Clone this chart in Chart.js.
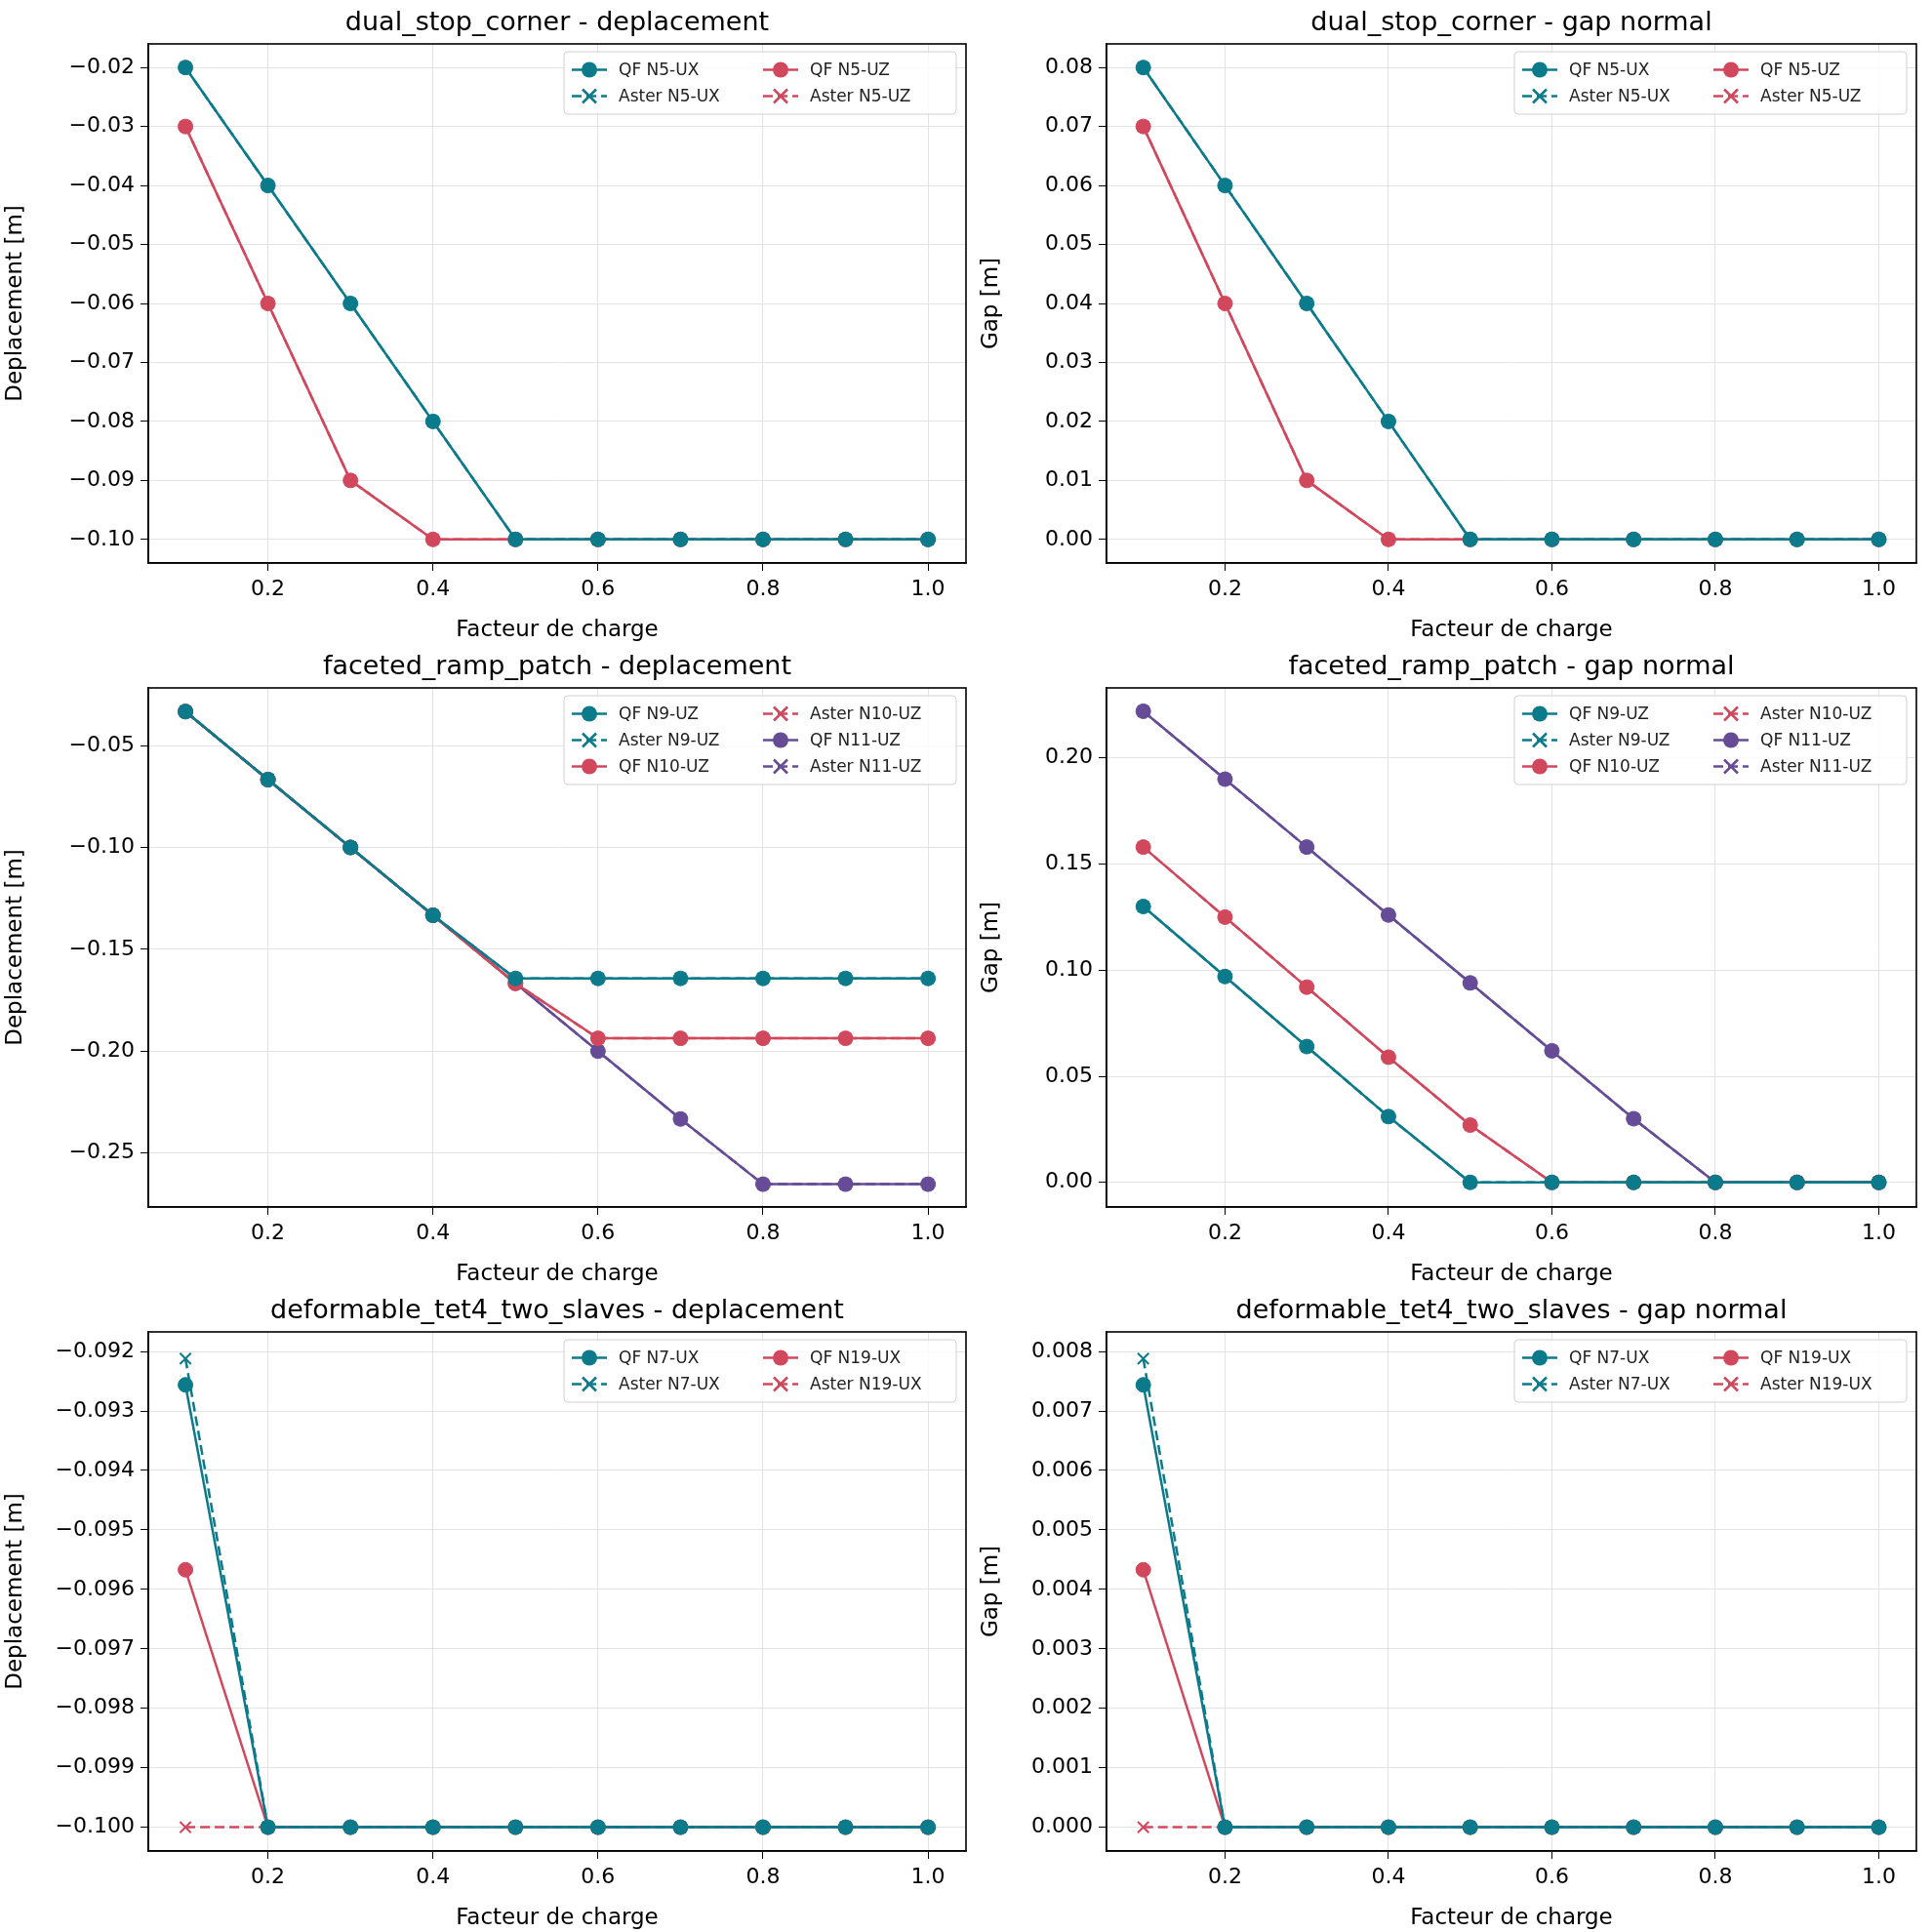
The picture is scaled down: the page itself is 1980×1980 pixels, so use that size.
<!DOCTYPE html>
<html><head><meta charset="utf-8">
<script src="https://cdn.jsdelivr.net/npm/chart.js@4"></script>
<style>body{margin:0;background:#fff;width:1980px;height:1980px;position:relative}canvas{position:absolute}</style>
</head><body>
<script>
const factors = [0.1,0.2,0.3,0.4,0.5,0.6,0.7,0.8,0.9,1.0];
const xTicks = [0.2,0.4,0.6,0.8,1.0];

const dualDepUX = [-0.02,-0.04,-0.06,-0.08,-0.1,-0.1,-0.1,-0.1,-0.1,-0.1];
const dualDepUZ = [-0.03,-0.06,-0.09,-0.1,-0.1,-0.1,-0.1,-0.1,-0.1,-0.1];
const dualGapUX = [0.08,0.06,0.04,0.02,0,0,0,0,0,0];
const dualGapUZ = [0.07,0.04,0.01,0,0,0,0,0,0,0];

const rampDepN9 = [-0.0333,-0.0667,-0.1,-0.1333,-0.1643,-0.1643,-0.1643,-0.1643,-0.1643,-0.1643];
const rampDepN10 = [-0.0333,-0.0667,-0.1,-0.1333,-0.1667,-0.1937,-0.1937,-0.1937,-0.1937,-0.1937];
const rampDepN11 = [-0.0333,-0.0667,-0.1,-0.1333,-0.1667,-0.2,-0.2333,-0.2653,-0.2653,-0.2653];
const rampGapN9 = [0.130,0.097,0.064,0.031,0,0,0,0,0,0];
const rampGapN10 = [0.158,0.125,0.092,0.059,0.027,0,0,0,0,0];
const rampGapN11 = [0.222,0.190,0.158,0.126,0.094,0.062,0.030,0,0,0];

const tetDepQFN7 = [-0.09256,-0.1,-0.1,-0.1,-0.1,-0.1,-0.1,-0.1,-0.1,-0.1];
const tetDepAsN7 = [-0.09212,-0.1,-0.1,-0.1,-0.1,-0.1,-0.1,-0.1,-0.1,-0.1];
const tetDepQFN19 = [-0.09567,-0.1,-0.1,-0.1,-0.1,-0.1,-0.1,-0.1,-0.1,-0.1];
const tetDepAsN19 = [-0.1,-0.1,-0.1,-0.1,-0.1,-0.1,-0.1,-0.1,-0.1,-0.1];
const tetGapQFN7 = [0.00744,0,0,0,0,0,0,0,0,0];
const tetGapAsN7 = [0.00788,0,0,0,0,0,0,0,0,0];
const tetGapQFN19 = [0.00433,0,0,0,0,0,0,0,0,0];
const tetGapAsN19 = [0,0,0,0,0,0,0,0,0,0];

const depTicks1 = [-0.02,-0.03,-0.04,-0.05,-0.06,-0.07,-0.08,-0.09,-0.10];
const gapTicks1 = [0,0.01,0.02,0.03,0.04,0.05,0.06,0.07,0.08];
const depTicks2 = [-0.05,-0.10,-0.15,-0.20,-0.25];
const gapTicks2 = [0,0.05,0.10,0.15,0.20];
const depTicks3 = [-0.092,-0.093,-0.094,-0.095,-0.096,-0.097,-0.098,-0.099,-0.100];
const gapTicks3 = [0,0.001,0.002,0.003,0.004,0.005,0.006,0.007,0.008];

const TEAL = '#0b7a8a', RED = '#d1485d', PURPLE = '#664c96';
const FONT = 'DejaVu Sans';

function pair(name, qf, aster, color) {
  return [
    {label: 'QF ' + name, data: qf, color, dash: []},
    {label: 'Aster ' + name, data: aster, color, dash: [10, 5]}
  ];
}

const legendPlugin = {
  id: 'boxLegend',
  afterDatasetsDraw(chart) {
    const ctx = chart.ctx, a = chart.chartArea;
    const ds = chart.data.datasets;
    const rows = Math.ceil(ds.length / 2), rowH = 27, colW = 196;
    const w = colW * 2 + 10, h = rows * rowH + 10;
    const x0 = a.right - 10 - w, y0 = a.top + 8;
    ctx.save();
    ctx.fillStyle = 'rgba(255,255,255,0.8)';
    ctx.strokeStyle = '#d0d0d0';
    ctx.lineWidth = 1;
    ctx.beginPath(); ctx.roundRect(x0, y0, w, h, 4); ctx.fill(); ctx.stroke();
    ctx.font = '17px ' + FONT;
    ctx.textBaseline = 'middle';
    ds.forEach((d, i) => {
      const c = Math.floor(i / rows), r = i % rows;
      const x = x0 + 8 + c * colW, y = y0 + 5 + r * rowH + rowH / 2;
      ctx.strokeStyle = d.borderColor; ctx.lineWidth = 2.5;
      ctx.setLineDash(d.borderDash || []);
      ctx.beginPath(); ctx.moveTo(x, y); ctx.lineTo(x + 36, y); ctx.stroke();
      ctx.setLineDash([]);
      if (d.pointStyle === 'circle') {
        ctx.fillStyle = d.borderColor;
        ctx.beginPath(); ctx.arc(x + 18, y, 8, 0, Math.PI * 2); ctx.fill();
      } else {
        ctx.beginPath();
        ctx.moveTo(x + 11, y - 7); ctx.lineTo(x + 25, y + 7);
        ctx.moveTo(x + 25, y - 7); ctx.lineTo(x + 11, y + 7); ctx.stroke();
      }
      ctx.fillStyle = '#222';
      ctx.fillText(d.label, x + 48, y + 1);
    });
    ctx.restore();
  }
};

const framePlugin = {
  id: 'frame',
  afterDraw(chart) {
    const ctx = chart.ctx, a = chart.chartArea;
    ctx.save();
    ctx.strokeStyle = '#000'; ctx.lineWidth = 1.6;
    ctx.strokeRect(a.left, a.top, a.right - a.left, a.bottom - a.top);
    ctx.fillStyle = '#000'; ctx.font = '27px ' + FONT;
    ctx.textAlign = 'center'; ctx.textBaseline = 'bottom';
    ctx.fillText(chart.options.plugins.myTitle, (a.left + a.right) / 2, a.top - 8);
    ctx.restore();
  }
};

function panel(left, top, width, yWidth, padRight, title, yLabel, yTicks, yMin, yMax, series, decimals) {
  const c = document.createElement('canvas');
  c.style.left = left + 'px'; c.style.top = top + 'px';
  c.width = width; c.height = 660;
  c.style.width = width + 'px'; c.style.height = '660px';
  document.body.appendChild(c);
  const datasets = series.map(s => ({
    label: s.label,
    data: factors.map((f, i) => ({x: f, y: s.data[i]})),
    borderColor: s.color, backgroundColor: s.color,
    borderWidth: 2.5, borderDash: s.dash,
    pointStyle: s.dash.length ? 'crossRot' : 'circle',
    pointRadius: s.dash.length ? 8 : 7.5,
    pointBorderWidth: s.dash.length ? 2 : 1,
    tension: 0
  }));
  new Chart(c, {
    type: 'scatter',
    data: {datasets},
    options: {
      responsive: false, animation: false, showLine: true,
      layout: {padding: {top: 45, right: padRight, bottom: 0, left: 0}},
      plugins: {legend: {display: false}, tooltip: {enabled: false}, myTitle: title},
      scales: {
        x: {
          min: 0.055, max: 1.046,
          afterBuildTicks: s => { s.ticks = xTicks.map(v => ({value: v})); },
          afterFit: s => { s.height = 83; },
          ticks: {font: {size: 22, family: FONT}, color: '#000', callback: v => v.toFixed(1), padding: 6},
          grid: {color: '#e3e3e3', tickColor: '#000', tickLength: 8},
          border: {color: '#000', width: 1.6},
          title: {display: true, text: 'Facteur de charge', font: {size: 23, family: FONT}, color: '#000', padding: 0}
        },
        y: {
          min: yMin, max: yMax,
          afterBuildTicks: s => { s.ticks = yTicks.map(v => ({value: v})); },
          afterFit: s => { s.width = yWidth; },
          ticks: {font: {size: 22, family: FONT}, color: '#000', padding: 6,
            callback: v => v.toFixed(decimals).replace('-', '\u2212')},
          grid: {color: '#e3e3e3', tickColor: '#000', tickLength: 8},
          border: {color: '#000', width: 1.6},
          title: {display: true, text: yLabel, font: {size: 23, family: FONT}, color: '#000', padding: 2}
        }
      }
    },
    plugins: [legendPlugin, framePlugin]
  });
}

const L = [0, 1000, 152, 9], R = [1000, 980, 134, 16];
const dep = 'Deplacement [m]', gap = 'Gap [m]';

panel(L[0], 0, L[1], L[2], L[3], 'dual_stop_corner - deplacement', dep, depTicks1, -0.104, -0.016,
  [...pair('N5-UX', dualDepUX, dualDepUX, TEAL), ...pair('N5-UZ', dualDepUZ, dualDepUZ, RED)], 2);
panel(R[0], 0, R[1], R[2], R[3], 'dual_stop_corner - gap normal', gap, gapTicks1, -0.004, 0.084,
  [...pair('N5-UX', dualGapUX, dualGapUX, TEAL), ...pair('N5-UZ', dualGapUZ, dualGapUZ, RED)], 2);
panel(L[0], 660, L[1], L[2], L[3], 'faceted_ramp_patch - deplacement', dep, depTicks2, -0.2765, -0.0217,
  [...pair('N9-UZ', rampDepN9, rampDepN9, TEAL), ...pair('N10-UZ', rampDepN10, rampDepN10, RED), ...pair('N11-UZ', rampDepN11, rampDepN11, PURPLE)], 2);
panel(R[0], 660, R[1], R[2], R[3], 'faceted_ramp_patch - gap normal', gap, gapTicks2, -0.0116, 0.233,
  [...pair('N9-UZ', rampGapN9, rampGapN9, TEAL), ...pair('N10-UZ', rampGapN10, rampGapN10, RED), ...pair('N11-UZ', rampGapN11, rampGapN11, PURPLE)], 2);
panel(L[0], 1320, L[1], L[2], L[3], 'deformable_tet4_two_slaves - deplacement', dep, depTicks3, -0.1004, -0.09167,
  [...pair('N7-UX', tetDepQFN7, tetDepAsN7, TEAL), ...pair('N19-UX', tetDepQFN19, tetDepAsN19, RED)], 3);
panel(R[0], 1320, R[1], R[2], R[3], 'deformable_tet4_two_slaves - gap normal', gap, gapTicks3, -0.0004, 0.00833,
  [...pair('N7-UX', tetGapQFN7, tetGapAsN7, TEAL), ...pair('N19-UX', tetGapQFN19, tetGapAsN19, RED)], 3);
</script>
</body></html>
